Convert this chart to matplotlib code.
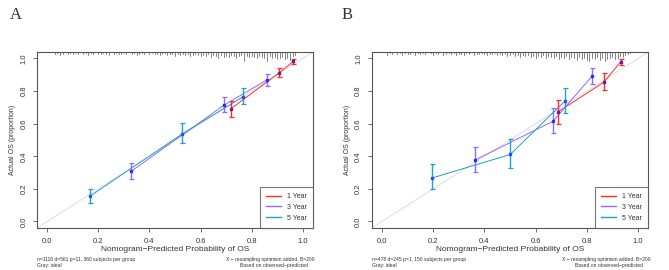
import matplotlib
matplotlib.use("Agg")
import matplotlib.pyplot as plt
import numpy as np

plt.rcParams['font.family'] = ['Liberation Sans', 'DejaVu Sans']

# ---- data ----
series_names = ["1 Year", "3 Year", "5 Year"]
series_colors = ["#ff2a2a", "#8c6bff", "#1aa3c2"]
marker_colors = ["#6a1e9a", "#2b2bff", "#2b50e8"]

# panel A
a_x = [[0.720, 0.908, 0.963], [0.328, 0.692, 0.858], [0.167, 0.527, 0.766]]
a_y = [[0.693, 0.912, 0.982], [0.307, 0.714, 0.867], [0.155, 0.536, 0.765]]
a_lo = [[0.642, 0.885, 0.967], [0.258, 0.669, 0.834], [0.115, 0.483, 0.720]]
a_hi = [[0.738, 0.939, 0.994], [0.356, 0.763, 0.904], [0.198, 0.603, 0.816]]

# panel B
b_x = [[0.686, 0.867, 0.932], [0.362, 0.668, 0.820], [0.194, 0.501, 0.714]]
b_y = [[0.671, 0.855, 0.980], [0.376, 0.615, 0.891], [0.266, 0.411, 0.738]]
b_lo = [[0.600, 0.804, 0.959], [0.303, 0.540, 0.845], [0.200, 0.331, 0.663]]
b_hi = [[0.748, 0.910, 0.998], [0.458, 0.697, 0.940], [0.354, 0.507, 0.818]]

# distribution of predicted values (spike heights, pixels) on a 0.01 grid
a_rug_start = 0.03
a_rug = [2, 1, 3, 2, 0, 2, 1, 2,
         1, 2, 0, 2, 1, 3, 1, 2, 0, 2,
         2, 1, 2, 3, 0, 2, 1, 2, 2, 1,
         2, 0, 2, 1, 3, 2, 1, 2, 0, 2,
         1, 2, 2, 3, 2, 1, 3, 2, 2, 4,
         2, 3, 2, 3, 2, 4, 3, 2, 3, 4,
         3, 4, 2, 5, 3, 4, 6, 3, 5, 4,
         5, 3, 4, 6, 4, 3, 9, 4, 5, 4,
         5, 6, 4, 5, 6, 9, 4, 6, 5, 7,
         6, 5, 7, 6, 8, 4, 3]
b_rug_start = 0.02
b_rug = [3, 1, 2, 0, 2, 1, 3, 1, 2,
         2, 0, 3, 1, 2, 1, 2, 0, 1, 3,
         1, 2, 0, 3, 2, 1, 2, 1, 3, 2,
         2, 3, 1, 2, 0, 3, 2, 2, 1, 2,
         3, 2, 2, 1, 3, 2, 3, 2, 4, 3,
         2, 4, 3, 5, 3, 4, 3, 5, 4, 6,
         4, 5, 3, 6, 4, 5, 6, 4, 7, 5,
         6, 4, 7, 5, 6, 8, 5, 7, 6, 8,
         9, 6, 7, 5, 8, 6, 9, 7, 6, 5,
         7, 6, 4, 5, 3, 2, 1]

a_note = "n=1116 d=561 p=11, 360 subjects per group"
b_note = "n=478 d=245 p=1, 150 subjects per group"

fig = plt.figure(figsize=(6.69, 2.70), dpi=100)


def panel(rect, letter, letter_x, xs, ys, los, his, rug_start, rug, note):
    ax = fig.add_axes(rect)
    ax.set_xlim(-0.04, 1.04)
    ax.set_ylim(-0.04, 1.04)
    ax.plot([-0.04, 1.04], [-0.04, 1.04], color="#dcdcdc", lw=0.7, zorder=1)

    # spikes from the top axis
    px = 1.08 / (rect[3] * 270)
    for i, h in enumerate(rug):
        if h == 0:
            continue
        x = rug_start + 0.01 * i
        ax.plot([x, x], [1.04, 1.04 - h * px], color="#555555", lw=0.5, zorder=2)

    for k in range(3):
        x = np.array(xs[k]); y = np.array(ys[k])
        ax.plot(x, y, color=series_colors[k], lw=0.7, zorder=3)
        ax.errorbar(x, y, yerr=[y - np.array(los[k]), np.array(his[k]) - y],
                    fmt="none", ecolor=series_colors[k], elinewidth=1.0,
                    capsize=1.8, capthick=0.9, zorder=4)
        ax.plot(x, y, "s", color=marker_colors[k], ms=2.1, zorder=5)

    for s in ax.spines.values():
        s.set_color("#555555")
        s.set_linewidth(0.8)
    ax.set_xticks(np.arange(0, 1.01, 0.2))
    ax.set_yticks(np.arange(0, 1.01, 0.2))
    ax.set_xticklabels(["%.1f" % v for v in np.arange(0, 1.01, 0.2)])
    ax.set_yticklabels(["%.1f" % v for v in np.arange(0, 1.01, 0.2)],
                       rotation=90, va="center")
    ax.tick_params(length=3, width=0.6, color="#555555", labelsize=5.5,
                   pad=4, labelcolor="#333333")
    ax.set_xlabel("Nomogram\u2212Predicted Probability of OS", fontsize=6,
                  color="#333333", labelpad=1)
    ax.set_ylabel("Actual OS (proportion)", fontsize=5, color="#333333", labelpad=3)

    handles = [plt.Line2D([], [], color=c, lw=1) for c in series_colors]
    leg = ax.legend(handles, series_names, loc="lower right", fontsize=5,
                    frameon=True, fancybox=False, borderaxespad=0,
                    handlelength=2.1, labelspacing=0.55, borderpad=0.9,
                    handletextpad=0.9)
    leg.get_frame().set_edgecolor("#555555")
    leg.get_frame().set_linewidth(0.8)
    for t in leg.get_texts():
        t.set_color("#333333")

    fig.text(letter_x, 1 - 15 / 270, letter, fontsize=12, family="Liberation Serif",
             color="#333333", va="center")
    left = rect[0]; right = rect[0] + rect[2]
    fig.text(left, 1 - 260 / 270, note, fontsize=3.6, color="#333333", va="center")
    fig.text(left, 1 - 266 / 270, "Gray: ideal", fontsize=3.6, color="#333333", va="center")
    fig.text(right + 0.003, 1 - 260 / 270, "X \u2212 resampling optimism added, B=200",
             fontsize=3.6, color="#333333", va="center", ha="right")
    fig.text(right - 0.008, 1 - 266 / 270, "Based on observed\u2212predicted",
             fontsize=3.6, color="#333333", va="center", ha="right")
    return ax


panel([0.0553, 0.1556, 0.4126, 0.652], "A", 10 / 669, a_x, a_y, a_lo, a_hi,
      a_rug_start, a_rug, a_note)
panel([0.5556, 0.1556, 0.4135, 0.652], "B", 342 / 669, b_x, b_y, b_lo, b_hi,
      b_rug_start, b_rug, b_note)

fig.savefig("out.png", dpi=100)
